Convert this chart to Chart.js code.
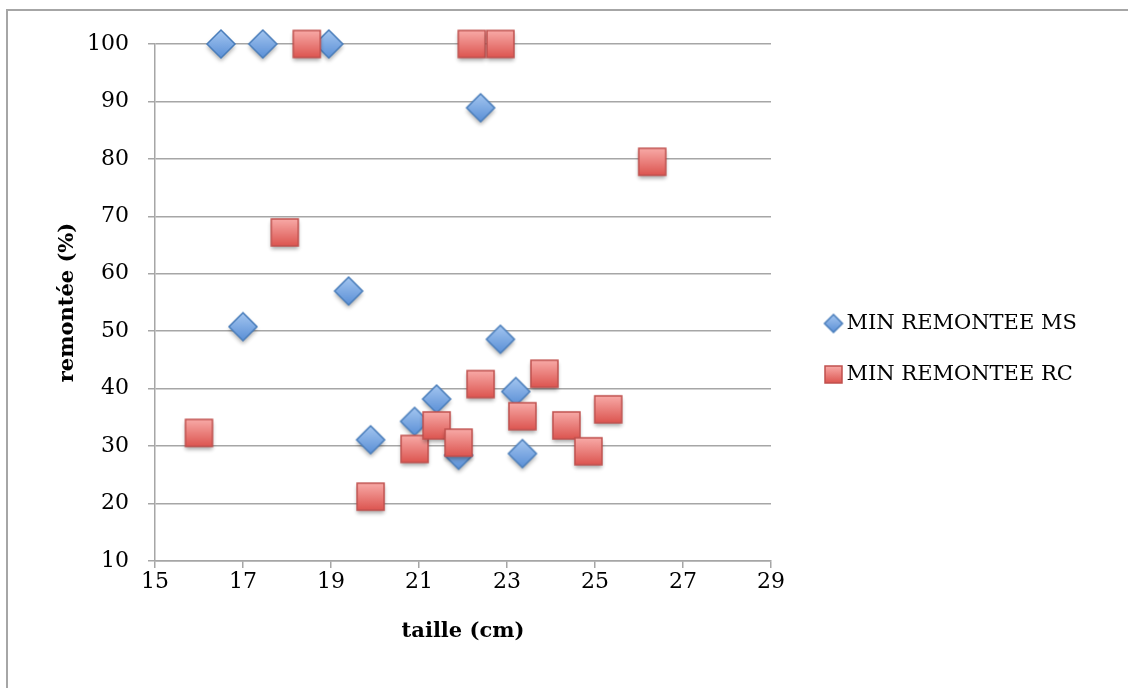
<!DOCTYPE html>
<html>
<head>
<meta charset="utf-8">
<script src="https://cdn.jsdelivr.net/npm/chart.js@4.4.1/dist/chart.umd.min.js"></script>
<style>
  html, body { margin: 0; padding: 0; background: #fff; }
  body { width: 1128px; height: 688px; overflow: hidden; position: relative; }
  #frame { position: absolute; left: 6px; top: 9px; width: 1400px; height: 900px;
           border-left: 2px solid #a6a6a6; border-top: 2px solid #a6a6a6; }
  #wrap { position: absolute; left: 0; top: 0; width: 1128px; height: 688px; }
</style>
</head>
<body>
<div id="frame"></div>
<div id="wrap"><canvas id="chart" width="1128" height="688"></canvas></div>
<script>
// values
const seriesNames = ["MIN REMONTEE MS", "MIN REMONTEE RC"];

const msTaille   = [16.5, 17.45, 18.95, 22.4, 19.4, 17.0, 22.85, 23.2, 21.4, 20.9, 19.9, 21.9, 23.35];
const msRemontee = [100, 100, 100, 88.9, 57.0, 50.8, 48.6, 39.5, 38.2, 34.3, 31.1, 28.4, 28.7];

const rcTaille   = [18.45, 22.2, 22.85, 17.95, 26.3, 16.0, 19.9, 20.9, 21.4, 21.9, 22.4, 23.85, 23.35, 24.35, 24.85, 25.3];
const rcRemontee = [100, 100, 100, 67.2, 79.5, 32.3, 21.2, 29.5, 33.6, 30.6, 40.8, 42.6, 35.2, 33.6, 29.1, 36.4];

const xMin = 15, xMax = 29, xStep = 2;
const yMin = 10, yMax = 100, yStep = 10;

const FONT = "'DejaVu Serif', 'Liberation Serif', serif";
const GRID = "#a6a6a6";

// Excel-like marker: gradient fill, thin edge, soft drop shadow
function makeMarker(shape, half, topColor, bottomColor, edge, shadow) {
    const pad = shadow ? 8 : 2;
    const size = Math.ceil(half * 2 + pad * 2);
    const c = document.createElement("canvas");
    c.width = size;
    c.height = size;
    const g = c.getContext("2d");
    const m = size / 2;
    g.beginPath();
    if (shape === "diamond") {
        g.moveTo(m, m - half);
        g.lineTo(m + half, m);
        g.lineTo(m, m + half);
        g.lineTo(m - half, m);
        g.closePath();
    } else {
        g.rect(m - half, m - half, half * 2, half * 2);
    }
    const grad = g.createLinearGradient(0, m - half, 0, m + half);
    grad.addColorStop(0, topColor);
    grad.addColorStop(1, bottomColor);
    g.fillStyle = grad;
    if (shadow) {
        g.shadowColor = "rgba(0,0,0,0.35)";
        g.shadowBlur = 4;
        g.shadowOffsetY = 3;
    }
    g.fill();
    g.shadowColor = "transparent";
    g.lineWidth = 1.5;
    g.strokeStyle = edge;
    g.stroke();
    return c;
}

const diamond = makeMarker("diamond", 14, "#a4c6f0", "#5a8fd6", "#4a7ebb", true);
const square = makeMarker("square", 13.5, "#f8aaa7", "#dc5550", "#c0504d", true);
const diamondSmall = makeMarker("diamond", 9, "#a4c6f0", "#5a8fd6", "#4a7ebb", false);
const squareSmall = makeMarker("square", 8.5, "#f8aaa7", "#dc5550", "#c0504d", false);

// legend geometry, so the plot area ends where the reference one does
const legendFontSize = 21;
const legendPadding = 30;
const legendBox = 5;
const measure = document.createElement("canvas").getContext("2d");
measure.font = legendFontSize + "px " + FONT;
const legendText = Math.max(...seriesNames.map(s => measure.measureText(s).width));
const legendWidth = legendPadding + legendBox + legendFontSize / 2 + legendText + 10;
const gapAxisWidth = 30;
const rightPad = Math.max(0, 1128 - 771 - gapAxisWidth - legendWidth);

const ctx = document.getElementById("chart").getContext("2d");

new Chart(ctx, {
    type: "scatter",
    data: {
        datasets: [{
            label: seriesNames[0],
            data: msTaille.map((x, i) => ({ x: x, y: msRemontee[i] })),
            pointStyle: diamond,
            pointRadius: 14,
            backgroundColor: "#6fa0dc",
            borderColor: "#4a7ebb",
            clip: false,
            order: 1
        }, {
            label: seriesNames[1],
            data: rcTaille.map((x, i) => ({ x: x, y: rcRemontee[i] })),
            pointStyle: square,
            pointRadius: 14,
            backgroundColor: "#e8716d",
            borderColor: "#c0504d",
            clip: false,
            order: 0   // drawn on top of the diamonds
        }]
    },
    options: {
        responsive: false,
        animation: false,
        layout: {
            padding: { left: 51, top: 44, right: rightPad, bottom: 34 }
        },
        plugins: {
            tooltip: { enabled: false },
            legend: {
                position: "right",
                align: "center",
                maxWidth: 420,
                labels: {
                    usePointStyle: true,
                    boxWidth: legendBox,
                    padding: legendPadding,
                    color: "#000",
                    font: { family: FONT, size: legendFontSize },
                    sort: (a, b) => a.datasetIndex - b.datasetIndex,
                    generateLabels: (chart) => {
                        const items = Chart.defaults.plugins.legend.labels.generateLabels(chart);
                        items.forEach(it => {
                            it.pointStyle = it.datasetIndex === 0 ? diamondSmall : squareSmall;
                        });
                        return items;
                    }
                }
            }
        },
        scales: {
            x: {
                type: "linear",
                min: xMin,
                max: xMax,
                ticks: {
                    stepSize: xStep,
                    padding: 1,
                    color: "#000",
                    font: { family: FONT, size: 22 }
                },
                grid: {
                    drawOnChartArea: false,
                    drawTicks: true,
                    tickLength: 7,
                    color: GRID,
                    lineWidth: 1.5
                },
                border: { color: GRID, width: 1.5 },
                title: {
                    display: true,
                    text: "taille (cm)",
                    color: "#000",
                    padding: { top: 10, bottom: 10 },
                    font: { family: FONT, size: 21, weight: "bold" }
                },
                afterFit: (scale) => { scale.height = 93; }
            },
            y: {
                type: "linear",
                min: yMin,
                max: yMax,
                ticks: {
                    stepSize: yStep,
                    padding: 19,
                    color: "#000",
                    font: { family: FONT, size: 22 }
                },
                grid: {
                    tickLength: 7,
                    color: GRID,
                    lineWidth: 1.5
                },
                border: { color: GRID, width: 1.5 },
                title: {
                    display: true,
                    text: "remontée (%)",
                    color: "#000",
                    font: { family: FONT, size: 21, weight: "bold" }
                },
                afterFit: (scale) => { scale.width = 104; }
            },
            // empty spacer between the plot and the legend
            gap: {
                type: "linear",
                position: "right",
                min: 0,
                max: 1,
                ticks: { display: false },
                grid: { display: false },
                border: { display: false },
                afterFit: (scale) => { scale.width = gapAxisWidth; }
            }
        }
    }
});
</script>
</body>
</html>
